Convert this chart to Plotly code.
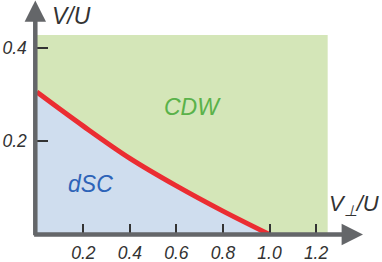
import plotly.graph_objects as go

# Phase boundary (V_perp/U, V/U)
v_perp = [0.0, 0.2, 0.4, 0.6, 0.8, 1.0]
v_bound = [0.305, 0.232, 0.163, 0.104, 0.050, 0.0]

# Extent of the shaded phase diagram
region_vperp = [0.0, 1.25, 1.25, 0.0]
region_v = [0.0, 0.0, 0.427, 0.427]

x_ticks = [0.2, 0.4, 0.6, 0.8, 1.0, 1.2]
x_ticktext = ["0.2", "0.4", "0.6", "0.8", "1.0", "1.2"]
y_ticks = [0.2, 0.4]
y_ticktext = ["0.2", "0.4"]

W, H = 382, 262
x0_px, y0_px = 36.8, 234.5
sx, sy = 232.7, 467.0

GREEN_FILL = "#d4e6b8"
BLUE_FILL = "#cfddee"
RED = "#eb2d32"
AXIS = "#646669"
TXT = "#333333"
FONT = "Liberation Sans"

fig = go.Figure()
fig.add_trace(go.Scatter(x=region_vperp, y=region_v, fill="toself", fillcolor=GREEN_FILL,
                         line=dict(width=0), mode="lines", hoverinfo="skip"))
fig.add_trace(go.Scatter(x=v_perp + [0.0], y=v_bound + [0.0], fill="toself", fillcolor=BLUE_FILL,
                         line=dict(width=0, shape="spline"), mode="lines", hoverinfo="skip"))
fig.add_trace(go.Scatter(x=v_perp, y=v_bound, mode="lines",
                         line=dict(color=RED, width=5, shape="spline")))

xr = [0, (W - x0_px) / sx]
yr = [0, y0_px / sy]

tickfont = dict(family=FONT, size=17.5, color=TXT, style="italic")
fig.update_layout(
    width=W, height=H, margin=dict(l=0, r=0, t=0, b=0),
    paper_bgcolor="white", plot_bgcolor="white", showlegend=False,
    xaxis=dict(domain=[x0_px / W, 1], range=xr, showgrid=False, zeroline=False, showline=False,
               tickvals=x_ticks, ticktext=x_ticktext, ticks="inside", ticklen=11, tickwidth=1.5,
               tickcolor=TXT, tickfont=tickfont, automargin=False, ticklabelstandoff=6),
    yaxis=dict(domain=[(H - y0_px) / H, 1], range=yr, showgrid=False, zeroline=False, showline=False,
               tickvals=y_ticks, ticktext=y_ticktext, ticks="inside", ticklen=11, tickwidth=1.5,
               tickcolor=TXT, tickfont=tickfont, automargin=False, ticklabelstandoff=9),
)

# axis arrows
fig.add_annotation(x=(363 - x0_px) / sx, y=0, ax=-0.018, ay=0, xref="x", yref="y", axref="x", ayref="y",
                   text="", showarrow=True, arrowhead=2, arrowwidth=4.5, arrowsize=0.95, arrowcolor=AXIS)
fig.add_annotation(x=0, y=(y0_px - 0.5) / sy, ax=0, ay=-0.005, xref="x", yref="y", axref="x", ayref="y",
                   xshift=-1.5, text="", showarrow=True, arrowhead=2, arrowwidth=4.5, arrowsize=0.95,
                   arrowcolor=AXIS)

lab = dict(family=FONT, size=23, style="italic")
fig.add_annotation(x=0.671, y=0.274, text="CDW", showarrow=False, font=dict(lab, color="#5ab24a"))
fig.add_annotation(x=0.231, y=0.109, text="dSC", showarrow=False, font=dict(lab, color="#2d63b8"))
fig.add_annotation(x=0.151, y=0.467, text="V/U", showarrow=False, font=dict(lab, color=TXT))
fig.add_annotation(x=(381 - x0_px) / sx, y=0.063, text="V<sub>⊥</sub>/U", showarrow=False, xanchor="right",
                   font=dict(lab, size=22, color=TXT))

fig.write_html("out.html", config={"displayModeBar": False},
               post_script="document.body.style.margin='0';document.body.style.overflow='hidden';")
